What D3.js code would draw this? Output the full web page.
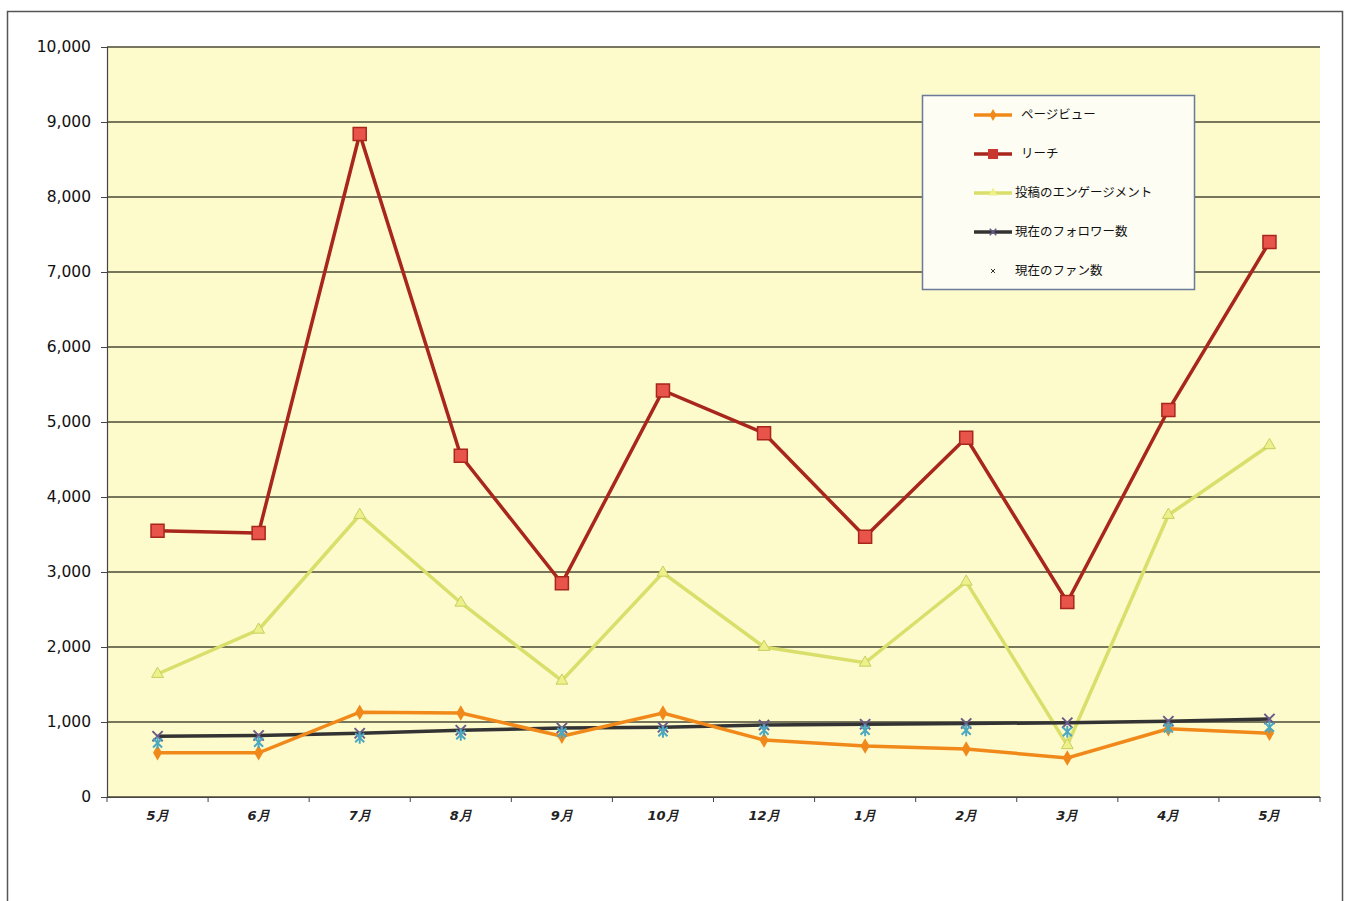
<!DOCTYPE html>
<html>
<head>
<meta charset="utf-8">
<script src="https://cdn.jsdelivr.net/npm/d3@7"></script>
<style>
  body { margin: 0; background: #fff; }
  svg { display: block; }
</style>
</head>
<body>
<div id="chart"></div>
<script>
// month labels along the x axis
const months = ["5月", "6月", "7月", "8月", "9月", "10月", "12月", "1月", "2月", "3月", "4月", "5月"];
const yTicks = [0, 1000, 2000, 3000, 4000, 5000, 6000, 7000, 8000, 9000, 10000];

// series values
const pageViews = [590, 590, 1130, 1120, 810, 1120, 760, 680, 640, 520, 910, 850];
const reach = [3550, 3520, 8840, 4550, 2850, 5420, 4850, 3470, 4790, 2600, 5160, 7400];
const engagement = [1640, 2230, 3760, 2590, 1550, 2990, 2000, 1790, 2870, 690, 3760, 4690];
const followers = [810, 820, 850, 890, 920, 930, 960, 970, 980, 990, 1010, 1040];
const fans = [720, 730, 790, 830, 860, 870, 890, 890, 890, 870, 920, 930];

const seriesNames = ["ページビュー", "リーチ", "投稿のエンゲージメント", "現在のフォロワー数", "現在のファン数"];

const width = 1346;
const height = 901;
const plot = {left: 107, right: 1320, top: 47, bottom: 797};

const svg = d3.select("#chart")
    .append("svg")
    .attr("width", width)
    .attr("height", height);

// outer chart frame
svg.append("rect")
    .attr("x", 7.5)
    .attr("y", 11.5)
    .attr("width", 1335)
    .attr("height", 900)
    .attr("fill", "#fff")
    .attr("stroke", "#555")
    .attr("stroke-width", 1.5);

// plot area background
svg.append("rect")
    .attr("x", plot.left)
    .attr("y", plot.top)
    .attr("width", plot.right - plot.left)
    .attr("height", plot.bottom - plot.top)
    .attr("fill", "#fdfacb");

const xScale = d3.scaleBand()
    .domain(d3.range(months.length))
    .range([plot.left, plot.right]);

const yScale = d3.scaleLinear()
    .domain([0, 10000])
    .range([plot.bottom, plot.top]);

const cx = (i) => xScale(i) + xScale.bandwidth() / 2;

// horizontal grid lines
svg.append("g")
    .selectAll("line")
    .data(yTicks)
    .join("line")
    .attr("x1", plot.left)
    .attr("x2", plot.right)
    .attr("y1", (d) => yScale(d))
    .attr("y2", (d) => yScale(d))
    .attr("stroke", "#4a4a36")
    .attr("stroke-width", 1.3);

// y axis
const yAxis = svg.append("g")
    .attr("transform", `translate(${plot.left},0)`)
    .call(d3.axisLeft(yScale).tickValues(yTicks).tickFormat(d3.format(",")).tickSize(6).tickPadding(10));
yAxis.select(".domain").attr("stroke", "#444").attr("stroke-width", 1.2);
yAxis.selectAll(".tick line").attr("stroke", "#444");
yAxis.selectAll("text")
    .attr("font-family", "DejaVu Sans, Verdana, sans-serif")
    .attr("font-size", 15.5)
    .attr("fill", "#111");

// x axis, ticks between categories
const xAxis = svg.append("g")
    .attr("transform", `translate(0,${plot.bottom})`)
    .call(d3.axisBottom(xScale).tickFormat((i) => months[i]).tickSize(0).tickPadding(14));
xAxis.select(".domain").attr("stroke", "#444").attr("stroke-width", 1.2);
xAxis.selectAll("text")
    .attr("font-family", "DejaVu Sans, Verdana, sans-serif")
    .attr("font-size", 13)
    .attr("font-style", "italic")
    .attr("font-weight", "bold")
    .attr("fill", "#222");
xAxis.selectAll(".boundary")
    .data(d3.range(months.length + 1))
    .join("line")
    .attr("class", "boundary")
    .attr("x1", (i) => plot.left + i * xScale.bandwidth())
    .attr("x2", (i) => plot.left + i * xScale.bandwidth())
    .attr("y1", 0)
    .attr("y2", 5)
    .attr("stroke", "#444");

const line = (values) => d3.line()
    .x((d, i) => cx(i))
    .y((d) => yScale(d))(values);

// engagement line (drawn under the others)
svg.append("path")
    .attr("d", line(engagement))
    .attr("fill", "none")
    .attr("stroke", "#d9df6a")
    .attr("stroke-width", 3.5);
svg.append("g")
    .selectAll("path")
    .data(engagement)
    .join("path")
    .attr("d", d3.symbol(d3.symbolTriangle, 60))
    .attr("transform", (d, i) => `translate(${cx(i)},${yScale(d)})`)
    .attr("fill", "#eef08a")
    .attr("stroke", "#c8cf60");

// reach line
svg.append("path")
    .attr("d", line(reach))
    .attr("fill", "none")
    .attr("stroke", "#a8261c")
    .attr("stroke-width", 3.5);
svg.append("g")
    .selectAll("rect")
    .data(reach)
    .join("rect")
    .attr("x", (d, i) => cx(i) - 6.5)
    .attr("y", (d) => yScale(d) - 6.5)
    .attr("width", 13)
    .attr("height", 13)
    .attr("fill", "#e8544a")
    .attr("stroke", "#a8261c")
    .attr("stroke-width", 1.5);

// followers line
svg.append("path")
    .attr("d", line(followers))
    .attr("fill", "none")
    .attr("stroke", "#333")
    .attr("stroke-width", 3.5);

// page views line
svg.append("path")
    .attr("d", line(pageViews))
    .attr("fill", "none")
    .attr("stroke", "#f0891a")
    .attr("stroke-width", 3.5);
svg.append("g")
    .selectAll("path")
    .data(pageViews)
    .join("path")
    .attr("d", d3.symbol(d3.symbolDiamond, 70))
    .attr("transform", (d, i) => `translate(${cx(i)},${yScale(d)})`)
    .attr("fill", "#f0891a");

// follower x markers
svg.append("g")
    .selectAll("path")
    .data(followers)
    .join("path")
    .attr("d", d3.symbol(d3.symbolX, 70))
    .attr("transform", (d, i) => `translate(${cx(i)},${yScale(d)})`)
    .attr("fill", "none")
    .attr("stroke", "#6a5a8a")
    .attr("stroke-width", 2);

// fan asterisk markers, no line
const fanMarks = svg.append("g")
    .selectAll("g")
    .data(fans)
    .join("g")
    .attr("transform", (d, i) => `translate(${cx(i)},${yScale(d)})`);
fanMarks.append("path")
    .attr("d", d3.symbol(d3.symbolX, 55))
    .attr("fill", "none")
    .attr("stroke", "#4aa8c0")
    .attr("stroke-width", 2);
fanMarks.append("line")
    .attr("x1", 0).attr("x2", 0)
    .attr("y1", -6).attr("y2", 6)
    .attr("stroke", "#4aa8c0")
    .attr("stroke-width", 2);

// legend box
const legend = svg.append("g").attr("transform", "translate(922,95)");
legend.append("rect")
    .attr("x", 0.5)
    .attr("y", 0.5)
    .attr("width", 272)
    .attr("height", 194)
    .attr("fill", "#fdfdf4")
    .attr("stroke", "#6a7a9a")
    .attr("stroke-width", 1.5);

const legendColors = ["#f0891a", "#a8261c", "#d9df6a", "#333", null];

const legendRows = legend.selectAll("g")
    .data(seriesNames)
    .join("g")
    .attr("transform", (d, i) => `translate(0,${20 + i * 39})`);

legendRows.each(function (d, i) {
    const row = d3.select(this);
    const color = legendColors[i];
    if (color) {
        row.append("line")
            .attr("x1", 52)
            .attr("x2", 90)
            .attr("y1", 0)
            .attr("y2", 0)
            .attr("stroke", color)
            .attr("stroke-width", 3.5);
    }
    const mid = 71;
    if (i === 0) {
        row.append("path").attr("d", d3.symbol(d3.symbolDiamond, 40))
            .attr("transform", `translate(${mid},0)`).attr("fill", "#f0891a");
    } else if (i === 1) {
        row.append("rect").attr("x", mid - 5).attr("y", -5).attr("width", 10).attr("height", 10)
            .attr("fill", "#c8382e");
    } else if (i === 2) {
        row.append("path").attr("d", d3.symbol(d3.symbolTriangle, 35))
            .attr("transform", `translate(${mid},0)`).attr("fill", "#eef08a");
    } else if (i === 3) {
        row.append("path").attr("d", d3.symbol(d3.symbolX, 30))
            .attr("transform", `translate(${mid},0)`).attr("fill", "none")
            .attr("stroke", "#6a5a8a").attr("stroke-width", 1.5);
    } else {
        row.append("path").attr("d", d3.symbol(d3.symbolX, 12))
            .attr("transform", `translate(${mid},0)`).attr("fill", "none")
            .attr("stroke", "#333").attr("stroke-width", 1);
    }
    row.append("text")
        .attr("x", i >= 2 ? 93 : 99)
        .attr("y", 0)
        .attr("dy", "0.35em")
        .attr("font-family", "Noto Sans CJK JP, sans-serif")
        .attr("font-size", 12.5)
        .attr("fill", "#111")
        .text(d);
});
</script>
</body>
</html>
